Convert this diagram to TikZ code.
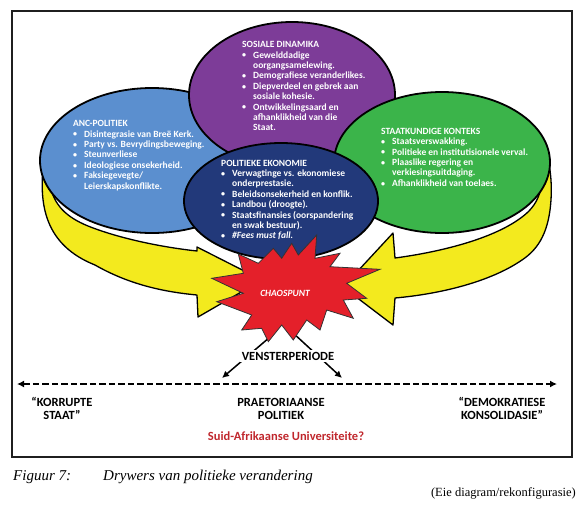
\documentclass[tikz,border=0pt]{standalone}
\usepackage{fontspec}
\setmainfont{Carlito}
\newfontfamily\capfont{Liberation Serif}
\usetikzlibrary{shapes.geometric,arrows.meta}
\definecolor{ancblue}{HTML}{5B8FCF}
\definecolor{sdpurple}{HTML}{7D3C98}
\definecolor{skgreen}{HTML}{3BB44A}
\definecolor{penavy}{HTML}{22397A}
\definecolor{arrowyellow}{HTML}{F3EA1E}
\definecolor{starred}{HTML}{E4202A}
\definecolor{univred}{HTML}{C0272D}
\newcommand\tb{\makebox[11pt][l]{\raisebox{0.3pt}{\fontsize{8}{8}\selectfont\textbullet}}}
\newcommand\hd[1]{\multicolumn{2}{@{}l@{}}{#1}}
\newenvironment{blist}{\begin{tabular}[t]{@{}l@{}l@{}}}{\end{tabular}}
\tikzset{
  ell/.style={shape=ellipse, draw=black, line width=1.8pt, inner sep=0pt},
  yarrow/.style={fill=arrowyellow, draw=black, line width=1.3pt, line join=round},
  txt/.style={text=white, font={\fontsize{9.5}{10.4}\selectfont\bfseries},
    inner sep=0pt, anchor=base west},
  lbl/.style={font=\fontsize{12.5}{13.3}\selectfont\bfseries, inner sep=0pt, anchor=base},
  varrow/.style={line width=1.5pt, -{Latex[length=7pt,width=7pt]}},
}
\begin{document}
\begin{tikzpicture}[x=1pt,y=-1pt]
\useasboundingbox (0,0) rectangle (576,507);
% frame
\draw[line width=2pt, black!88] (12,11) rectangle (572,457);

% yellow arrows (behind the ellipses)
\draw[yarrow] (44,160) .. controls (38,205) and (45,245) .. (95,265)
  .. controls (130,285) and (165,292) .. (197,295)
  -- (198,317) -- (262,280) -- (197,247) -- (197,251)
  .. controls (160,247) and (118,238) .. (88,226)
  .. controls (66,217) and (54,205) .. (50,185) -- (50,160) -- cycle;
\draw[yarrow] (395,258) .. controls (440,252) and (500,238) .. (528,212)
  .. controls (540,200) and (545,185) .. (542,150) -- (530,135) -- (520,125)
  .. controls (545,132) and (553,165) .. (551,200)
  .. controls (549,230) and (540,248) .. (522,260)
  .. controls (490,282) and (440,294) .. (395,298)
  -- (393,325) -- (343,287) -- (393,233) -- cycle;

% ellipses
\node[ell, fill=ancblue, minimum width=224pt, minimum height=145pt] (anc) at (152,160.5) {};
\node[ell, fill=sdpurple, minimum width=206pt, minimum height=146pt] (sd) at (292,95) {};
\node[ell, fill=skgreen, minimum width=216pt, minimum height=141pt] (sk) at (442,162.5) {};
\node[ell, fill=penavy, minimum width=194pt, minimum height=116pt] (pe) at (281,201) {};

% texts in ellipses
\node[txt] (sdtext) at (242,47.7) {\begin{blist}
\hd{SOSIALE DINAMIKA}\\
\tb & Gewelddadige\\
    & oorgangsamelewing.\\
\tb & Demografiese veranderlikes.\\
\tb & Diepverdeel en gebrek aan\\
    & sosiale  kohesie.\\
\tb & Ontwikkelingsaard en\\
    & afhanklikheid van die\\
    & Staat.
\end{blist}};
\node[txt] (anctext) at (73,126.7) {\begin{blist}
\hd{ANC-POLITIEK}\\
\tb & Disintegrasie van Breë Kerk.\\
\tb & Party vs. Bevrydingsbeweging.\\
\tb & Steunverliese\\
\tb & Ideologiese onsekerheid.\\
\tb & Faksiegevegte/\\
    & Leierskapskonflikte.
\end{blist}};
\node[txt] (sktext) at (381,134.3) {\begin{blist}
\hd{STAATKUNDIGE KONTEKS}\\
\tb & Staatsverswakking.\\
\tb & Politieke en institutisionele verval.\\
\tb & Plaaslike regering en\\
    & verkiesingsuitdaging.\\
\tb & Afhanklikheid van toelaes.
\end{blist}};
\node[txt] (petext) at (221,166) {\begin{blist}
\hd{POLITIEKE EKONOMIE}\\
\tb & Verwagtinge vs. ekonomiese\\
    & onderprestasie.\\
\tb & Beleidsonsekerheid en konflik.\\
\tb & Landbou (droogte).\\
\tb & Staatsfinansies (oorspandering\\
    & en swak bestuur).\\
\tb & \textit{\#Fees must fall.}
\end{blist}};

% window-period arrows (start behind the star)
\coordinate (vl0) at (270,337);
\coordinate (vl1) at (222,378);
\coordinate (vr0) at (292,332);
\coordinate (vr1) at (342,378);
\draw[varrow] (vl0) -- (vl1);
\draw[varrow] (vr0) -- (vr1);

% star
\draw[fill=starred, draw=black!80, line width=0.8pt, line join=miter]
  (211.7,278.3) -- (243.3,273.3) -- (238.3,254) -- (258.3,263.3) -- (273.3,248.3)
  -- (281.7,258.3) -- (291.7,243.3) -- (298.3,255) -- (316.7,235) -- (315,258.3)
  -- (340,253.3) -- (330,266.7) -- (380,269.3) -- (346.7,283.3) -- (366.7,298.3)
  -- (343.3,300) -- (353.3,318.3) -- (326.7,310) -- (320,330) -- (306.7,320)
  -- (293.3,340) -- (281.7,325) -- (268.3,341.7) -- (261.7,328.3) -- (241.7,330)
  -- (251.7,315) -- (216.7,301.7) -- (243.3,293.3) -- cycle;
\node[font=\fontsize{9.5}{11}\selectfont\bfseries\itshape, text=white, inner sep=0pt, anchor=base] (chaos) at (285,296) {CHAOSPUNT};

% window period label
\node[lbl, fill=white, inner sep=2pt] (venster) at (288,360) {VENSTERPERIODE};

% dashed continuum
\coordinate (dl) at (17,384);
\coordinate (dr) at (557,384);
\draw[line width=2pt, dash pattern=on 6.5pt off 3pt, {Latex[length=7pt,width=7pt]}-{Latex[length=7pt,width=7pt]}] (dl) -- (dr);

\node[lbl] (korrupt) at (62,406) {\begin{tabular}[t]{@{}c@{}}“KORRUPTE\\STAAT”\end{tabular}};
\node[lbl] (praet) at (281,406) {\begin{tabular}[t]{@{}c@{}}PRAETORIAANSE\\POLITIEK\end{tabular}};
\node[lbl] (demok) at (502,406) {\begin{tabular}[t]{@{}c@{}}“DEMOKRATIESE\\KONSOLIDASIE”\end{tabular}};
\node[lbl, text=univred] (univ) at (286,440) {Suid-Afrikaanse Universiteite?};

% caption
\node[font=\capfont\itshape\fontsize{15}{17}\selectfont, inner sep=0pt, anchor=base west] (fig) at (13,480) {Figuur 7:};
\node[font=\capfont\itshape\fontsize{15}{17}\selectfont, inner sep=0pt, anchor=base west] (figtitle) at (103,480) {Drywers van politieke verandering};
\node[font=\capfont\fontsize{12.5}{15}\selectfont, inner sep=0pt, anchor=base east] (source) at (576,496) {(Eie diagram/rekonfigurasie)};
\end{tikzpicture}
\end{document}
